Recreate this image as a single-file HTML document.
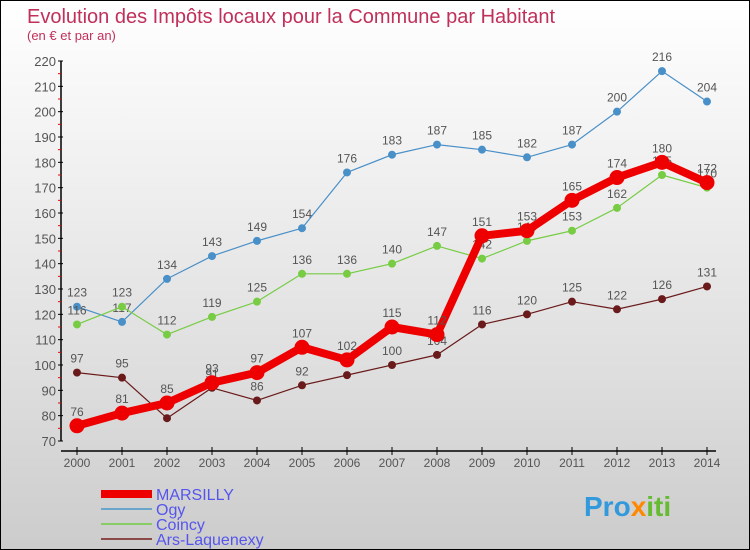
<!DOCTYPE html>
<html><head><meta charset="utf-8"><style>
body{margin:0;}
#c{width:750px;height:550px;position:relative;background:linear-gradient(#fff,#ddd 70%,#ccc);box-sizing:border-box;border:1px solid #000;overflow:hidden;font-family:"Liberation Sans",sans-serif;}
</style></head><body>
<div id="c">
<svg id="s" width="750" height="550" style="position:absolute;left:0;top:0">
<text x="26" y="22" font-size="20" fill="#c0305a">Evolution des Impôts locaux pour la Commune par Habitant</text>
<text x="26" y="39" font-size="13" fill="#c0305a">(en € et par an)</text>
<g id="axes"></g><g id="series"></g><g id="legend"></g>
<text x="583" y="515" font-size="28" font-weight="bold" fill="#3399dd">Pro<tspan fill="#ff8800">x</tspan><tspan fill="#66bb33">iti</tspan></text>
</svg>
</div>
<script>
const years=[2000,2001,2002,2003,2004,2005,2006,2007,2008,2009,2010,2011,2012,2013,2014];
const marsilly=[76,81,85,93,97,107,102,115,112,151,153,165,174,180,172];
const ogy=[123,117,134,143,149,154,176,183,187,185,182,187,200,216,204];
const coincy=[116,123,112,119,125,136,136,140,147,142,149,153,162,175,170];
const ars=[97,95,79,91,86,92,96,100,104,116,120,125,122,126,131];
const yTicks=[70,80,90,100,110,120,130,140,150,160,170,180,190,200,210,220];
const NS="http://www.w3.org/2000/svg";
function X(i){return 76+i*45;}
function Y(v){return 440-(v-70)*380/150;}
function mk(t,a,p){const e=document.createElementNS(NS,t);for(const k in a)e.setAttribute(k,a[k]);p.appendChild(e);return e;}
const ax=document.getElementById('axes');
let e=mk('line',{x1:60,y1:60,x2:60,y2:440,stroke:'#000','stroke-width':1.5},ax);

e=mk('line',{x1:60,y1:450,x2:715,y2:450,stroke:'#000','stroke-width':1.5},ax);

yTicks.forEach(v=>{const y=Y(v);
mk('line',{x1:57,y1:y,x2:62,y2:y,stroke:'#000'},ax);
if(v<220)mk('line',{x1:57,y1:Y(v+5),x2:60,y2:Y(v+5),stroke:'#e00'},ax);
const t=mk('text',{x:55,y:y+5,'font-size':13,'text-anchor':'end',fill:'#555'},ax);t.textContent=v;
});
years.forEach((yr,i)=>{mk('line',{x1:X(i),y1:446,x2:X(i),y2:454,stroke:'#000'},ax);
const t=mk('text',{x:X(i),y:466,'font-size':12,'text-anchor':'middle',fill:'#555'},ax);t.textContent=yr;
});
const sg=document.getElementById('series');
function draw(vals,color,w,r,name){const g=mk('g',{},sg);

const p=mk('polyline',{points:vals.map((v,i)=>X(i)+','+Y(v)).join(' '),fill:'none',stroke:color,'stroke-width':w,'stroke-linejoin':'round'},g);

vals.forEach((v,i)=>{const c=mk('circle',{cx:X(i),cy:Y(v),r:r,fill:color},g);

const t=mk('text',{x:X(i),y:Y(v)-10,'font-size':12,'text-anchor':'middle',fill:'#555'},g);t.textContent=v;
});}
draw(ogy,'#4a90c8',1.2,4,'ogy');
draw(coincy,'#77cc44',1.2,4,'coincy');
draw(ars,'#6a1a1a',1.2,4,'ars-laquenexy');
draw(marsilly,'#ee0000',8,7.5,'marsilly');
const lg=document.getElementById('legend');
[['MARSILLY','#ee0000',8],['Ogy','#6aa6cc',2],['Coincy','#88cc66',2],['Ars-Laquenexy','#8a4a4a',2]].forEach((d,i)=>{
const y=493+i*15;const g=mk('g',{},lg);

mk('line',{x1:100,y1:y,x2:151,y2:y,stroke:d[1],'stroke-width':d[2]},g);
const t=mk('text',{x:155,y:y+6,'font-size':16,fill:'#5555ee'},g);t.textContent=d[0];});
</script>
</body></html>
